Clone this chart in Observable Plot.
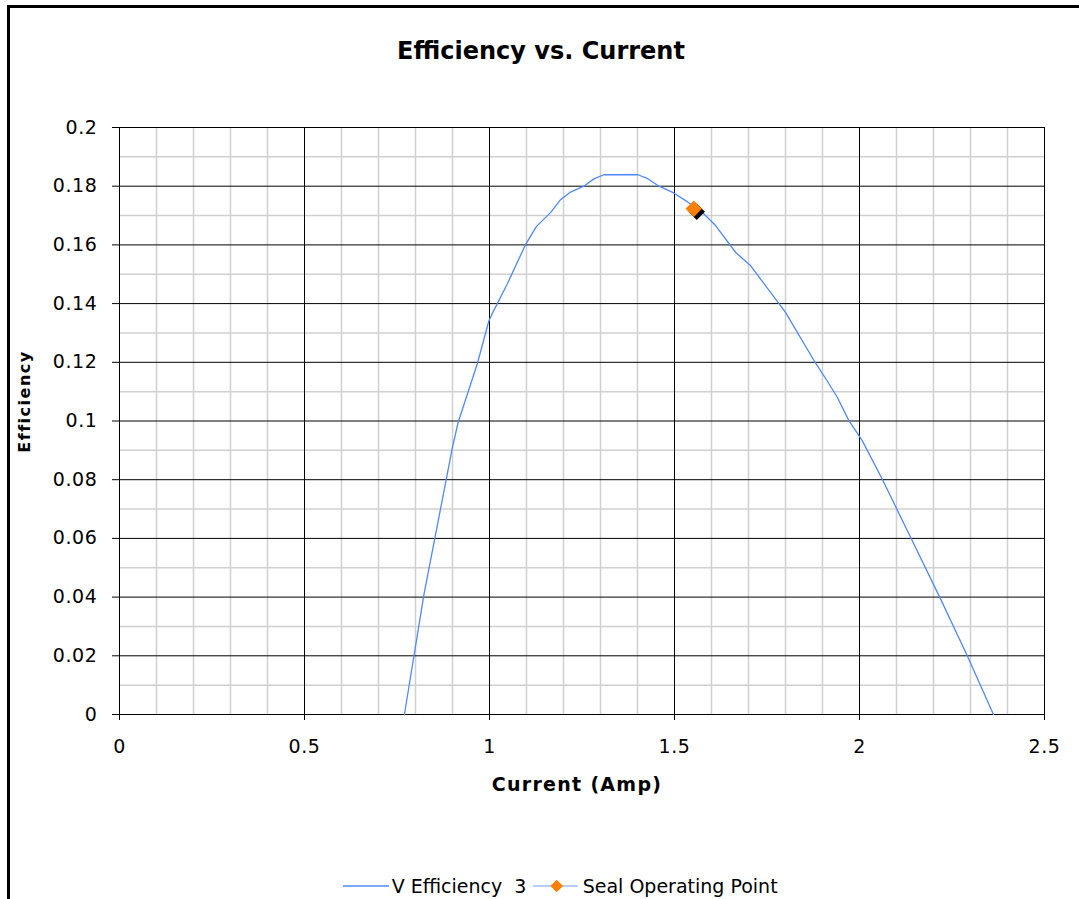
<!DOCTYPE html>
<html><head><meta charset="utf-8">
<script src="https://cdn.jsdelivr.net/npm/d3@7"></script>
<script src="https://cdn.jsdelivr.net/npm/@observablehq/plot@0.6"></script>
<style>
html,body{margin:0;padding:0;background:#fff;overflow:hidden;width:1079px;height:899px}
body{position:relative;font-family:"DejaVu Sans",Verdana,sans-serif}
#frame{position:absolute;left:7px;top:5px;width:2000px;height:2000px;border-left:3px solid #000;border-top:3px solid #000;box-sizing:border-box}
#title{position:absolute;left:0;top:39px;width:1082px;text-align:center;font-size:24px;line-height:24px;font-weight:bold;color:#000}
#chart{position:absolute;left:0;top:0}
#legend{position:absolute;left:0;top:860px}
</style>
</head>
<body>
<div id="frame"></div>
<div id="title">Efficiency vs. Current</div>
<div id="chart"></div>
<svg id="legend" width="1079" height="39" font-family="DejaVu Sans, Verdana, sans-serif" font-size="19">
  <line x1="343" x2="389" y1="26" y2="26" stroke="#5088ff" stroke-width="1.3"/>
  <text x="391.7" y="33.3" fill="#000" xml:space="preserve">V Efficiency  3</text>
  <line x1="533" x2="578" y1="26" y2="26" stroke="#9cc0ff" stroke-width="1.3"/>
  <path d="M556.7,19.7L563,26L556.7,32.3L550.4,26Z" fill="#ff8000"/>
  <text x="582.7" y="33.3" fill="#000">Seal Operating Point</text>
</svg>
<script>
// Data
const current = [0.770, 0.823, 0.886, 0.899, 0.915, 0.967, 0.998, 1.007, 1.048, 1.097, 1.127, 1.165, 1.192, 1.219, 1.255, 1.282, 1.309, 1.401, 1.426, 1.458, 1.498, 1.530, 1.579, 1.611, 1.665, 1.705, 1.786, 1.800, 1.877, 1.912, 1.940, 1.971, 2.007, 2.061, 2.138, 2.219, 2.291, 2.362];
const efficiency = [0, 0.041, 0.082, 0.0905, 0.0994, 0.1195, 0.134, 0.1365, 0.1467, 0.160, 0.1663, 0.171, 0.1754, 0.178, 0.180, 0.1825, 0.1839, 0.1839, 0.1827, 0.180, 0.1777, 0.1751, 0.1706, 0.1666, 0.1575, 0.153, 0.1394, 0.137, 0.1206, 0.1138, 0.1081, 0.1002, 0.0934, 0.0803, 0.0604, 0.0394, 0.0201, 0];
const sealCurrent = [1.552];
const sealEfficiency = [0.1723];

const xTicks = [0, 0.5, 1, 1.5, 2, 2.5];
const xTickLabels = ["0", "0.5", "1", "1.5", "2", "2.5"];
const yTicks = [0, 0.02, 0.04, 0.06, 0.08, 0.1, 0.12, 0.14, 0.16, 0.18, 0.2];
const yTickLabels = ["0", "0.02", "0.04", "0.06", "0.08", "0.1", "0.12", "0.14", "0.16", "0.18", "0.2"];
const xMinorGrid = [0.1, 0.2, 0.3, 0.4, 0.6, 0.7, 0.8, 0.9, 1.1, 1.2, 1.3, 1.4, 1.6, 1.7, 1.8, 1.9, 2.1, 2.2, 2.3, 2.4];
const yMinorGrid = [0.01, 0.03, 0.05, 0.07, 0.09, 0.11, 0.13, 0.15, 0.17, 0.19];
const xLabel = "Current (Amp)";
const yLabel = "Efficiency";

const curve = current.map((c, i) => ({current: c, eff: efficiency[i]}));
const seal = sealCurrent.map((c, i) => ({current: c, eff: sealEfficiency[i]}));

const chart = Plot.plot({
  width: 1079, height: 899,
  marginLeft: 119, marginRight: 35, marginTop: 127, marginBottom: 185,
  style: {fontFamily: '"DejaVu Sans", Verdana, sans-serif', fontSize: "19px", background: "transparent", color: "#000", overflow: "visible"},
  x: {domain: [0, 2.5]},
  y: {domain: [0, 0.2]},
  marks: [
    Plot.ruleX(xMinorGrid, {stroke: "#d0d0d0", strokeWidth: 1.5}),
    Plot.ruleY(yMinorGrid, {stroke: "#d0d0d0", strokeWidth: 1.5}),
    Plot.ruleX(xTicks, {stroke: "#000", strokeWidth: 1}),
    Plot.ruleY(yTicks, {stroke: "#000", strokeWidth: 1}),
    Plot.axisX({ticks: xTicks, tickFormat: d => xTickLabels[xTicks.indexOf(d)], tickSize: 6, tickPadding: 19, label: null, stroke: "#000", fontSize: 19}),
    Plot.axisY({ticks: yTicks, tickFormat: d => yTickLabels[yTicks.indexOf(d)], tickSize: 7, tickPadding: 15, label: null, stroke: "#000", fontSize: 19}),
    Plot.line(curve, {x: "current", y: "eff", stroke: "#5088ff", strokeWidth: 1.3}),
    Plot.dot(seal, {x: "current", y: "eff", symbol: "diamond2", r: 7.4, fill: "#000", dx: 3, dy: 3}),
    Plot.dot(seal, {x: "current", y: "eff", symbol: "diamond2", r: 7.4, fill: "#ff8000"}),
    Plot.text([xLabel], {frameAnchor: "bottom", textAnchor: "middle", lineAnchor: "bottom", dx: -5, dy: 76.7, fontWeight: "bold", fontSize: 19, fill: "#000"}),
    Plot.text([yLabel], {frameAnchor: "left", textAnchor: "middle", rotate: -90, lineAnchor: "bottom", dx: -89.7, dy: -19.5, fontWeight: "bold", fontSize: 16, fill: "#000"})
  ]
});
const sel = d3.select(chart);
sel.selectAll("text").each(function () {
  const t = this.textContent;
  if (t === xLabel) this.style.letterSpacing = "1.3px";
  else if (t === yLabel) this.style.letterSpacing = "1.5px";
  else if (xTickLabels.includes(t) || yTickLabels.includes(t)) this.style.letterSpacing = "0.6px";
});
document.getElementById("chart").appendChild(chart);
</script>
</body></html>
